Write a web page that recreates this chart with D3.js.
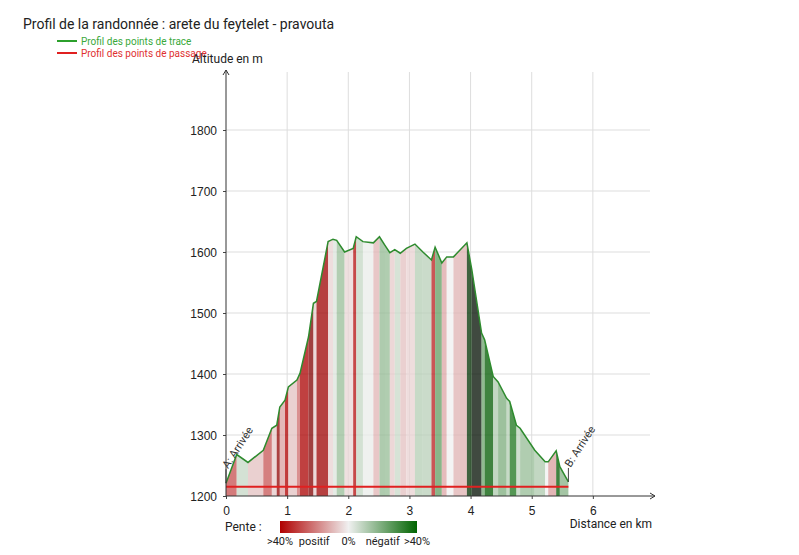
<!DOCTYPE html>
<html>
<head>
<meta charset="utf-8">
<script src="https://cdn.jsdelivr.net/npm/d3@7"></script>
<style>
  body { margin: 0; background: #fff; font-family: Roboto, sans-serif; }
  text { fill: #222; }
</style>
</head>
<body>
<div id="chart"></div>
<script>
// profil de la trace : distance (km) / altitude (m)
var distances = [0, 0.175, 0.36, 0.61, 0.75, 0.83, 0.88, 0.965, 1.02, 1.16, 1.21, 1.35, 1.43, 1.48,
    1.67, 1.75, 1.81, 1.94, 2.08, 2.13, 2.24, 2.41, 2.51, 2.60, 2.68, 2.76, 2.85, 2.95, 3.09,
    3.22, 3.36, 3.42, 3.53, 3.61, 3.72, 3.94, 4.02, 4.18, 4.23, 4.37, 4.45, 4.59, 4.64, 4.75,
    4.81, 5.05, 5.22, 5.27, 5.40, 5.46, 5.60];
var altitudes = [1221, 1268, 1255, 1275, 1311, 1316, 1346, 1357, 1379, 1390, 1401, 1461, 1516, 1519,
    1617, 1621, 1619, 1600, 1606, 1625, 1617, 1615, 1625, 1611, 1599, 1604, 1598, 1606, 1613,
    1600, 1587, 1608, 1582, 1592, 1592, 1615, 1571, 1467, 1456, 1396, 1387, 1360, 1355, 1316,
    1311, 1275, 1256, 1256, 1274, 1248, 1223];
// points de passage
var passageDist = [0, 5.6];
var passageAlt = [1215, 1215];
var passageNames = ['A: Arrivée', 'B: Arrivée'];

var xTicks = [0, 1, 2, 3, 4, 5, 6];
var yTicks = [1200, 1300, 1400, 1500, 1600, 1700, 1800];
var penteValues = [40, 20, 0, -20, -40];
var penteLabels = ['>40%', 'positif', '0%', 'négatif', '>40%'];

var width = 799, height = 555;
var svg = d3.select('#chart').append('svg')
    .attr('width', width)
    .attr('height', height);

var x = d3.scaleLinear().domain([0, 7]).range([226, 654]);
var y = d3.scaleLinear().domain([1200, 1900]).range([496, 69]);

// couleur selon la pente (non bornee, comme l'original)
var color = d3.scaleLinear()
    .domain([-40, 0, 40])
    .range(['#006400', '#f0f0f0', '#b00000']);

var profile = distances.map(function (d, i) { return { d: d, a: altitudes[i] }; });

// titre
svg.append('text').attr('x', 23).attr('y', 29)
    .style('font-size', '14px').text('Profil de la randonnée : arete du feytelet - pravouta');

// legende
var legend = [
    { label: 'Profil des points de trace', color: '#2ca02c', text: '#3aa83a' },
    { label: 'Profil des points de passage', color: '#e02020', text: '#e03030' }
];
legend.forEach(function (l, i) {
    var ly = 41 + i * 12;
    svg.append('line').attr('x1', 57).attr('x2', 77).attr('y1', ly).attr('y2', ly)
        .attr('stroke', l.color).attr('stroke-width', 2);
    svg.append('text').attr('x', 81).attr('y', ly + 4)
        .style('font-size', '10px').style('fill', l.text).text(l.label);
});

// grille
var grid = svg.append('g').attr('stroke', '#ddd').attr('stroke-width', 1);
grid.selectAll('.gx').data(xTicks.slice(1)).enter().append('line')
    .attr('x1', function (d) { return x(d); }).attr('x2', function (d) { return x(d); })
    .attr('y1', 72).attr('y2', y(1200));
grid.selectAll('.gy').data(yTicks.slice(1)).enter().append('line')
    .attr('x1', x(0)).attr('x2', 650)
    .attr('y1', function (d) { return y(d); }).attr('y2', function (d) { return y(d); });

// bandes de pente
var band = d3.area()
    .x(function (p) { return x(p.d); })
    .y0(y(1200))
    .y1(function (p) { return y(p.a); });
var segments = d3.pairs(profile);
svg.append('g').selectAll('path').data(segments).enter().append('path')
    .attr('d', function (s) { return band(s); })
    .attr('fill', function (s) {
        var pente = (s[1].a - s[0].a) / ((s[1].d - s[0].d) * 10);
        return color(pente);
    })
    .attr('fill-opacity', 0.75)
    .attr('stroke', 'none');

// ligne du profil
var line = d3.line().x(function (p) { return x(p.d); }).y(function (p) { return y(p.a); });
svg.append('path').datum(profile).attr('d', line)
    .attr('fill', 'none').attr('stroke', '#2e8b2e').attr('stroke-width', 1.5);

// ligne des points de passage
var passage = passageDist.map(function (d, i) { return { d: d, a: passageAlt[i] }; });
svg.append('path').datum(passage).attr('d', line)
    .attr('fill', 'none').attr('stroke', '#e02020').attr('stroke-width', 2);

// etiquettes des points de passage
passage.forEach(function (p, i) {
    var j = i === 0 ? 0 : profile.length - 1;
    var px = x(profile[j].d), py = y(profile[j].a);
    svg.append('line').attr('x1', px).attr('x2', px).attr('y1', py).attr('y2', py - 14)
        .attr('stroke', '#444').attr('stroke-width', 1);
    svg.append('text')
        .attr('transform', 'translate(' + (px + 2) + ',' + (py - 14) + ') rotate(-57)')
        .style('font-size', '11px').style('fill', '#333')
        .text(passageNames[i]);
});

// axes
var xAxis = d3.axisBottom(x).tickValues(xTicks).tickSize(3).tickFormat(d3.format('d'));
var yAxis = d3.axisLeft(y).tickValues(yTicks).tickSize(3).tickFormat(d3.format('d'));
var gx = svg.append('g').attr('transform', 'translate(0,' + y(1200) + ')').call(xAxis);
var gy = svg.append('g').attr('transform', 'translate(' + x(0) + ',0)').call(yAxis);
gx.select('.domain').remove();
gy.select('.domain').remove();
gx.selectAll('text').style('font-size', '12px').attr('dy', '1.1em');
gy.selectAll('text').style('font-size', '12px').attr('dy', '0.35em').attr('x', -9);
gx.selectAll('line').attr('stroke', '#444');
gy.selectAll('line').attr('stroke', '#444');

var axisColor = '#333';
svg.append('line').attr('x1', x(0)).attr('x2', x(0)).attr('y1', y(1200)).attr('y2', 70)
    .attr('stroke', axisColor).attr('stroke-width', 1);
svg.append('path').attr('d', 'M' + (x(0) - 3) + ',75 L' + x(0) + ',70 L' + (x(0) + 3) + ',75')
    .attr('fill', 'none').attr('stroke', axisColor);
svg.append('line').attr('x1', x(0)).attr('x2', 655).attr('y1', y(1200)).attr('y2', y(1200))
    .attr('stroke', axisColor).attr('stroke-width', 1);
svg.append('path').attr('d', 'M650,' + (y(1200) - 3) + ' L655,' + y(1200) + ' L650,' + (y(1200) + 3))
    .attr('fill', 'none').attr('stroke', axisColor);

svg.append('text').attr('x', 192).attr('y', 63).style('font-size', '12px').text('Altitude en m');
svg.append('text').attr('x', 652).attr('y', 528).attr('text-anchor', 'end')
    .style('font-size', '12px').text('Distance en km');

// legende de pente
var lx = d3.scaleLinear().domain([40, -40]).range([280, 417]);
var defs = svg.append('defs');
var grad = defs.append('linearGradient').attr('id', 'pente');
grad.selectAll('stop').data([40, 0, -40]).enter().append('stop')
    .attr('offset', function (d) { return (lx(d) - 280) / 137; })
    .attr('stop-color', function (d) { return color(d); });
svg.append('rect').attr('x', lx(40)).attr('y', 521).attr('width', lx(-40) - lx(40)).attr('height', 12)
    .attr('fill', 'url(#pente)');
svg.append('text').attr('x', 225).attr('y', 531).style('font-size', '12px').text('Pente :');
svg.selectAll('.plab').data(penteValues).enter().append('text')
    .attr('x', function (d) { return lx(d); })
    .attr('y', 545)
    .attr('text-anchor', 'middle')
    .style('font-size', '11px')
    .text(function (d, i) { return penteLabels[i]; });
</script>
</body>
</html>
